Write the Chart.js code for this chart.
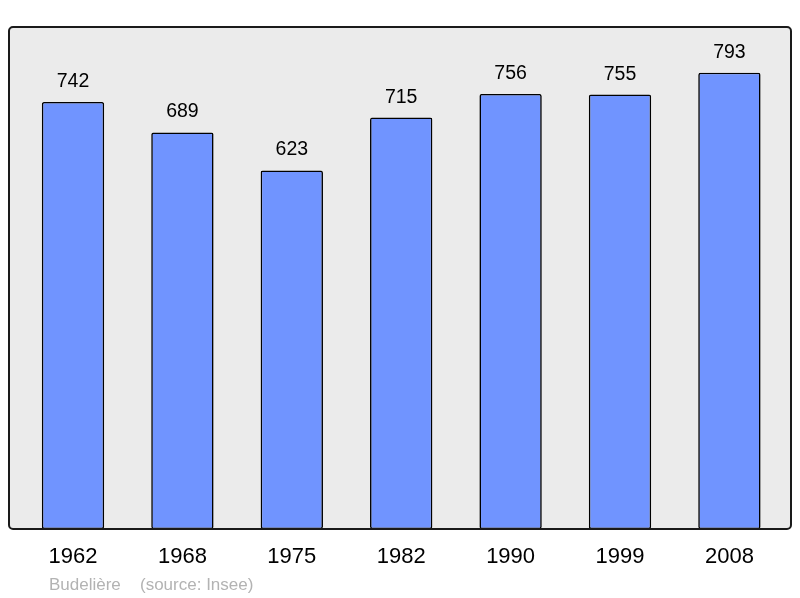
<!DOCTYPE html>
<html>
<head>
<meta charset="utf-8">
<script src="https://cdn.jsdelivr.net/npm/chart.js@4"></script>
<style>
html,body{margin:0;padding:0;background:#fff;}
#wrap{width:800px;height:598px;}
</style>
</head>
<body>
<div id="wrap"><canvas id="c" width="800" height="598"></canvas></div>
<script>
const years = ["1962","1968","1975","1982","1990","1999","2008"];
const population = [742,689,623,715,756,755,793];
const footerName = "Budelière";
const footerSource = "(source: Insee)";

const FONT = '"Liberation Sans", Arial, sans-serif';

const framePlugin = {
  id: 'frame',
  beforeDatasetsDraw(chart) {
    const {ctx, chartArea: a} = chart;
    ctx.save();
    ctx.fillStyle = '#ebebeb';
    ctx.beginPath();
    ctx.roundRect(a.left - 9.3, a.top, (a.right + 6.9) - (a.left - 9.3), a.bottom - a.top, 4);
    ctx.fill();
    ctx.restore();
  },
  afterDatasetsDraw(chart) {
    const {ctx, chartArea: a} = chart;
    ctx.save();
    ctx.strokeStyle = '#1a1a1a';
    ctx.lineWidth = 2;
    ctx.beginPath();
    ctx.roundRect(a.left - 9.3, a.top, (a.right + 6.9) - (a.left - 9.3), a.bottom - a.top, 4);
    ctx.stroke();
    // value labels
    const meta = chart.getDatasetMeta(0);
    ctx.fillStyle = '#000';
    ctx.font = '19.5px ' + FONT;
    ctx.textAlign = 'center';
    ctx.textBaseline = 'alphabetic';
    meta.data.forEach((bar, i) => {
      ctx.fillText(String(chart.data.datasets[0].data[i]), bar.x, bar.y - 15);
    });
    // footer
    ctx.fillStyle = '#b3b3b3';
    ctx.font = '17px ' + FONT;
    ctx.textAlign = 'left';
    ctx.fillText(footerName, 49, 590);
    ctx.fillText(footerSource, 140, 590);
    ctx.restore();
  }
};

new Chart(document.getElementById('c'), {
  type: 'bar',
  data: {
    labels: years,
    datasets: [{
      data: population,
      backgroundColor: '#7094ff',
      borderColor: '#000',
      borderWidth: 1.6,
      borderRadius: 2,
      borderSkipped: false,
      categoryPercentage: 1,
      barPercentage: 0.57
    }]
  },
  options: {
    responsive: false,
    animation: false,
    devicePixelRatio: 1,
    layout: { padding: { left: 18.3, right: 15.9, top: 27, bottom: 12.6 } },
    plugins: { legend: { display: false }, tooltip: { enabled: false }, title: { display: false } },
    scales: {
      x: {
        grid: { display: false, drawTicks: false },
        border: { display: false },
        ticks: { color: '#000', font: { size: 22, family: FONT }, padding: 15, maxRotation: 0 }
      },
      y: {
        display: false,
        min: 0,
        max: Math.max(...population) * 1.1
      }
    }
  },
  plugins: [framePlugin]
});
</script>
</body>
</html>
